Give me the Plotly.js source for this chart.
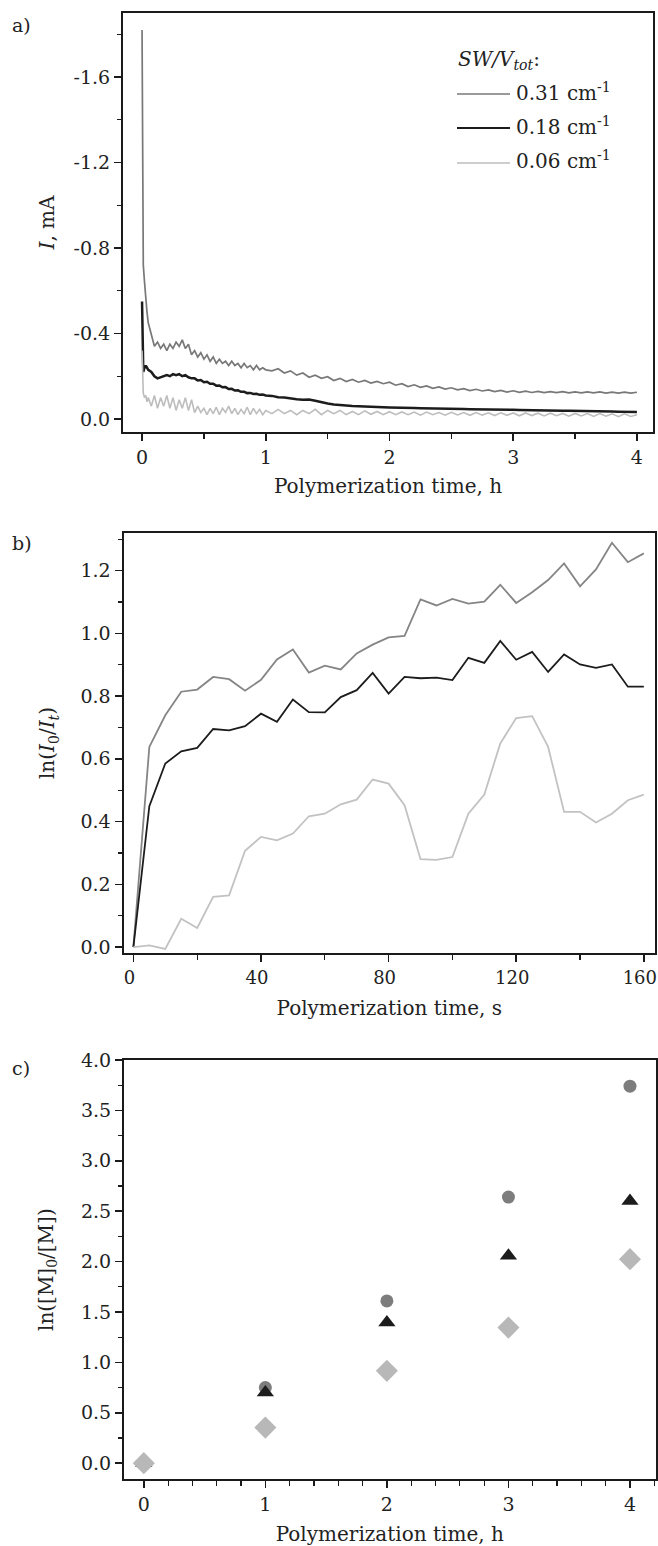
<!DOCTYPE html>
<html>
<head>
<meta charset="utf-8">
<script src="https://cdn.plot.ly/plotly-3.0.1.min.js"></script>
<style>html,body{margin:0;padding:0;background:#fff;}#chart{width:658px;height:1546px;}</style>
</head>
<body>
<div id="chart"></div>
<script>
// ---------- Panel a: current vs time (h) ----------
const tA = [0,0.005,0.01,0.02,0.03,0.04,0.05,
  0.075,0.1,0.125,0.15,0.175,0.2,0.225,0.25,0.275,0.3,
  0.325,0.35,0.375,0.4,0.425,0.45,0.475,0.5,0.525,0.55,
  0.575,0.6,0.625,0.65,0.675,0.7,0.725,0.75,0.775,0.8,
  0.825,0.85,0.875,0.9,0.925,0.95,0.975,1.0,
  1.05,1.1,1.15,1.2,1.25,1.3,1.35,1.4,1.45,1.5,1.55,1.6,1.65,1.7,1.75,1.8,1.85,1.9,1.95,2.0,
  2.05,2.1,2.15,2.2,2.25,2.3,2.35,2.4,2.45,2.5,2.55,2.6,2.65,2.7,2.75,2.8,2.85,2.9,2.95,3.0,
  3.05,3.1,3.15,3.2,3.25,3.3,3.35,3.4,3.45,3.5,3.55,3.6,3.65,3.7,3.75,3.8,3.85,3.9,3.95,4.0];
const iA_031 = [-1.82,-0.80,-0.72,-0.64,-0.56,-0.50,-0.45,
  -0.39,-0.34,-0.36,-0.33,-0.35,-0.32,-0.35,-0.33,-0.36,-0.34,
  -0.37,-0.33,-0.35,-0.30,-0.32,-0.29,-0.31,-0.28,-0.30,-0.27,
  -0.29,-0.26,-0.28,-0.26,-0.27,-0.25,-0.27,-0.25,-0.26,-0.24,
  -0.26,-0.24,-0.25,-0.23,-0.25,-0.23,-0.24,-0.23,
  -0.225,-0.235,-0.215,-0.225,-0.205,-0.215,-0.195,-0.205,-0.19,-0.198,-0.18,-0.19,-0.175,-0.185,-0.172,-0.18,-0.168,-0.176,-0.165,-0.172,
  -0.158,-0.165,-0.152,-0.16,-0.148,-0.155,-0.143,-0.15,-0.14,-0.146,-0.136,-0.142,-0.133,-0.139,-0.131,-0.136,-0.128,-0.134,-0.126,-0.132,
  -0.125,-0.13,-0.124,-0.129,-0.123,-0.128,-0.123,-0.128,-0.122,-0.127,-0.122,-0.127,-0.122,-0.127,-0.121,-0.126,-0.121,-0.126,-0.121,-0.125];
const iA_018 = [-0.55,-0.24,-0.22,-0.24,-0.25,-0.24,-0.23,
  -0.22,-0.20,-0.19,-0.195,-0.20,-0.205,-0.20,-0.21,-0.205,-0.21,
  -0.20,-0.205,-0.195,-0.19,-0.19,-0.18,-0.182,-0.172,-0.174,-0.165,
  -0.165,-0.156,-0.157,-0.148,-0.149,-0.14,-0.141,-0.133,-0.134,-0.127,
  -0.127,-0.121,-0.122,-0.117,-0.118,-0.113,-0.114,-0.11,
  -0.108,-0.102,-0.1,-0.095,-0.092,-0.09,-0.091,-0.085,-0.078,-0.072,-0.068,-0.065,-0.063,-0.061,-0.06,-0.058,-0.057,-0.056,-0.055,-0.054,
  -0.054,-0.052,-0.052,-0.051,-0.05,-0.05,-0.049,-0.049,-0.048,-0.048,-0.047,-0.047,-0.046,-0.046,-0.045,-0.045,-0.044,-0.044,-0.043,-0.043,
  -0.042,-0.042,-0.041,-0.041,-0.04,-0.04,-0.039,-0.039,-0.038,-0.038,-0.037,-0.037,-0.036,-0.036,-0.035,-0.035,-0.034,-0.034,-0.033,-0.033];
const iA_006 = [-0.32,-0.16,-0.12,-0.10,-0.11,-0.08,-0.10,
  -0.06,-0.11,-0.05,-0.10,-0.06,-0.11,-0.05,-0.10,-0.04,-0.09,
  -0.05,-0.10,-0.04,-0.09,-0.03,-0.06,-0.03,-0.05,-0.02,-0.05,
  -0.025,-0.055,-0.02,-0.05,-0.03,-0.06,-0.025,-0.05,-0.02,-0.045,
  -0.025,-0.055,-0.02,-0.05,-0.025,-0.045,-0.02,-0.04,
  -0.025,-0.045,-0.025,-0.04,-0.02,-0.04,-0.025,-0.045,-0.02,-0.04,-0.025,-0.04,-0.02,-0.035,-0.02,-0.038,-0.022,-0.035,-0.02,-0.034,
  -0.02,-0.033,-0.02,-0.032,-0.018,-0.032,-0.02,-0.03,-0.018,-0.031,-0.019,-0.03,-0.017,-0.03,-0.018,-0.029,-0.016,-0.029,-0.017,-0.028,
  -0.015,-0.028,-0.016,-0.027,-0.014,-0.027,-0.015,-0.026,-0.013,-0.026,-0.014,-0.025,-0.012,-0.025,-0.013,-0.024,-0.011,-0.024,-0.012,-0.02];
const yTickA = [0, -0.4, -0.8, -1.2, -1.6];
const yTickTextA = ['0.0', '-0.4', '-0.8', '-1.2', '-1.6'];
const xTickA = [0, 1, 2, 3, 4];

// ---------- Panel b: ln(I0/It) vs time (s) ----------
const tB = [0,5,10,15,20,25,30,35,40,45,50,55,60,65,70,75,80,85,90,95,100,105,110,115,120,125,130,135,140,145,150,155,160];
const lnB_031 = [0,0.638,0.739,0.814,0.821,0.861,0.854,0.817,0.852,0.917,0.949,0.875,0.897,0.885,0.936,0.964,0.987,0.992,1.108,1.089,1.110,1.095,1.101,1.155,1.097,1.131,1.170,1.223,1.150,1.204,1.289,1.227,1.255];
const lnB_018 = [0,0.449,0.585,0.624,0.635,0.695,0.691,0.704,0.744,0.718,0.789,0.749,0.748,0.797,0.819,0.874,0.808,0.861,0.857,0.859,0.851,0.922,0.906,0.976,0.916,0.941,0.877,0.933,0.901,0.890,0.901,0.830,0.830];
const lnB_006 = [0,0.005,-0.006,0.090,0.061,0.160,0.165,0.307,0.351,0.340,0.362,0.417,0.425,0.455,0.470,0.534,0.521,0.452,0.280,0.278,0.287,0.425,0.486,0.649,0.730,0.736,0.638,0.431,0.431,0.397,0.425,0.468,0.486];
const yTickB = [0, 0.2, 0.4, 0.6, 0.8, 1.0, 1.2];
const xTickB = [0, 40, 80, 120, 160];

// ---------- Panel c: ln([M]0/[M]) vs time (h) ----------
const tC = [0, 1, 2, 3, 4];
const lnC_031 = [0, 0.75, 1.61, 2.64, 3.74];
const lnC_018 = [0, 0.70, 1.395, 2.057, 2.60];
const lnC_006 = [0, 0.353, 0.916, 1.345, 2.024];
const yTickC = [0, 0.5, 1.0, 1.5, 2.0, 2.5, 3.0, 3.5, 4.0];
const xTickC = [0, 1, 2, 3, 4];

const seriesNames = ['0.31 cm<sup>-1</sup>', '0.18 cm<sup>-1</sup>', '0.06 cm<sup>-1</sup>'];
const colA = ['#787878', '#1c1c1c', '#bdbdbd'];

// ---------- layout helpers ----------
const W = 658, H = 1546;
const fx = p => p / W;
const fy = p => 1 - p / H;
const FONT = 'DejaVu Serif, Liberation Serif, serif';
const INK = '#1a1a1a';

function axisBase(extra) {
  return Object.assign({
    showline: true, linewidth: 2, linecolor: INK, mirror: true,
    ticks: 'outside', ticklen: 7, tickwidth: 1.5, tickcolor: INK,
    showgrid: false, zeroline: false, fixedrange: true,
    ticklabeloverflow: 'allow',
    tickfont: {family: FONT, size: 19, color: '#222'}
  }, extra);
}

const traces = [
  {x: tA, y: iA_031, xaxis: 'x', yaxis: 'y', mode: 'lines', line: {color: colA[0], width: 1.7}, name: seriesNames[0], showlegend: false},
  {x: tA, y: iA_018, xaxis: 'x', yaxis: 'y', mode: 'lines', line: {color: colA[1], width: 2.5}, name: seriesNames[1], showlegend: false},
  {x: tA, y: iA_006, xaxis: 'x', yaxis: 'y', mode: 'lines', line: {color: colA[2], width: 1.6}, name: seriesNames[2], showlegend: false},

  {x: tB, y: lnB_031, xaxis: 'x2', yaxis: 'y2', mode: 'lines', line: {color: '#858585', width: 1.8}, showlegend: false},
  {x: tB, y: lnB_018, xaxis: 'x2', yaxis: 'y2', mode: 'lines', line: {color: '#1c1c1c', width: 1.8}, showlegend: false},
  {x: tB, y: lnB_006, xaxis: 'x2', yaxis: 'y2', mode: 'lines', line: {color: '#c2c2c2', width: 1.8}, showlegend: false},

  {x: tC, y: lnC_031, xaxis: 'x3', yaxis: 'y3', mode: 'markers', marker: {symbol: 'circle', size: 13, color: '#7d7d7d'}, showlegend: false},
  {x: tC, y: lnC_018, xaxis: 'x3', yaxis: 'y3', mode: 'markers', marker: {symbol: 'triangle-up', size: 15, color: '#1c1c1c'}, showlegend: false},
  {x: tC, y: lnC_006, xaxis: 'x3', yaxis: 'y3', mode: 'markers', marker: {symbol: 'diamond', size: 17, color: '#b8b8b8'}, showlegend: false}
];

const titleFont = {family: FONT, size: 20, color: '#222'};

const layout = {
  width: W, height: H,
  margin: {l: 0, r: 0, t: 0, b: 0},
  paper_bgcolor: '#fff', plot_bgcolor: '#fff',
  showlegend: false,
  font: {family: FONT, color: '#222'},

  xaxis: axisBase({domain: [fx(123), fx(653)], anchor: 'y', range: [-0.154, 4.13],
    tickmode: 'array', tickvals: xTickA,
    minor: {tickmode: 'linear', tick0: 0, dtick: 0.5, ticks: 'outside', ticklen: 5, tickwidth: 1.2, tickcolor: INK},
    title: {text: 'Polymerization time, h', font: titleFont, standoff: 12}}),
  yaxis: axisBase({domain: [fy(432), fy(13)], anchor: 'x', range: [0.061, -1.90],
    tickmode: 'array', tickvals: yTickA, ticktext: yTickTextA,
    minor: {tickmode: 'linear', tick0: 0, dtick: 0.2, ticks: 'outside', ticklen: 4, tickwidth: 1.2, tickcolor: INK},
    title: {text: '<i>I</i>, mA', font: titleFont, standoff: 14}}),

  xaxis2: axisBase({domain: [fx(123.5), fx(655)], anchor: 'y2', range: [-3.1, 163.5],
    tickmode: 'array', tickvals: xTickB,
    tickfont: {family: FONT, size: 18, color: '#222'}, ticklabelshift: -4,
    minor: {tickmode: 'linear', tick0: 0, dtick: 20, ticks: 'outside', ticklen: 5, tickwidth: 1.2, tickcolor: INK},
    title: {text: 'Polymerization time, s', font: titleFont, standoff: 14}}),
  yaxis2: axisBase({domain: [fy(953), fy(533)], anchor: 'x2', range: [-0.019, 1.32],
    tickmode: 'array', tickvals: yTickB, tickformat: '.1f',
    minor: {tickmode: 'linear', tick0: 0, dtick: 0.1, ticks: 'outside', ticklen: 4, tickwidth: 1.2, tickcolor: INK},
    title: {text: 'ln(<i>I</i><sub>0</sub>/<i>I</i><sub><i>t</i></sub>)', font: titleFont, standoff: 20}}),

  xaxis3: axisBase({domain: [fx(124), fx(655.5)], anchor: 'y3', range: [-0.163, 4.21],
    tickmode: 'array', tickvals: xTickC,
    minor: {tickmode: 'linear', tick0: 0, dtick: 0.2, ticks: 'outside', ticklen: 5, tickwidth: 1.2, tickcolor: INK},
    title: {text: 'Polymerization time, h', font: titleFont, standoff: 16}}),
  yaxis3: axisBase({domain: [fy(1479.3), fy(1060)], anchor: 'x3', range: [-0.16, 4.0],
    tickmode: 'array', tickvals: yTickC, tickformat: '.1f',
    minor: {tickmode: 'linear', tick0: 0, dtick: 0.25, ticks: 'outside', ticklen: 4, tickwidth: 1.2, tickcolor: INK},
    title: {text: 'ln([M]<sub>0</sub>/[M])', font: titleFont, standoff: 22}}),

  annotations: [
    {text: 'a)', xref: 'paper', yref: 'paper', x: fx(10), y: fy(25), xanchor: 'left', yanchor: 'middle', showarrow: false, font: {family: FONT, size: 19, color: '#222'}},
    {text: 'b)', xref: 'paper', yref: 'paper', x: fx(10), y: fy(543), xanchor: 'left', yanchor: 'middle', showarrow: false, font: {family: FONT, size: 19, color: '#222'}},
    {text: 'c)', xref: 'paper', yref: 'paper', x: fx(10), y: fy(1068), xanchor: 'left', yanchor: 'middle', showarrow: false, font: {family: FONT, size: 19, color: '#222'}},
    {text: '<i>SW/V</i><sub><i>tot</i></sub>:', xref: 'paper', yref: 'paper', x: fx(456), y: fy(60), xanchor: 'left', yanchor: 'middle', showarrow: false, font: {family: FONT, size: 20, color: '#222'}},
    {text: seriesNames[0], xref: 'paper', yref: 'paper', x: fx(514), y: fy(92), xanchor: 'left', yanchor: 'middle', showarrow: false, font: {family: FONT, size: 20, color: '#222'}},
    {text: seriesNames[1], xref: 'paper', yref: 'paper', x: fx(514), y: fy(126), xanchor: 'left', yanchor: 'middle', showarrow: false, font: {family: FONT, size: 20, color: '#222'}},
    {text: seriesNames[2], xref: 'paper', yref: 'paper', x: fx(514), y: fy(160), xanchor: 'left', yanchor: 'middle', showarrow: false, font: {family: FONT, size: 20, color: '#222'}}
  ],
  shapes: [
    {type: 'line', xref: 'paper', yref: 'paper', x0: fx(457), x1: fx(510), y0: fy(94), y1: fy(94), line: {color: colA[0], width: 1.6}},
    {type: 'line', xref: 'paper', yref: 'paper', x0: fx(457), x1: fx(510), y0: fy(128), y1: fy(128), line: {color: colA[1], width: 2}},
    {type: 'line', xref: 'paper', yref: 'paper', x0: fx(457), x1: fx(510), y0: fy(163), y1: fy(163), line: {color: colA[2], width: 1.6}}
  ]
};

Plotly.newPlot('chart', traces, layout, {displayModeBar: false, staticPlot: true});
</script>
</body>
</html>
